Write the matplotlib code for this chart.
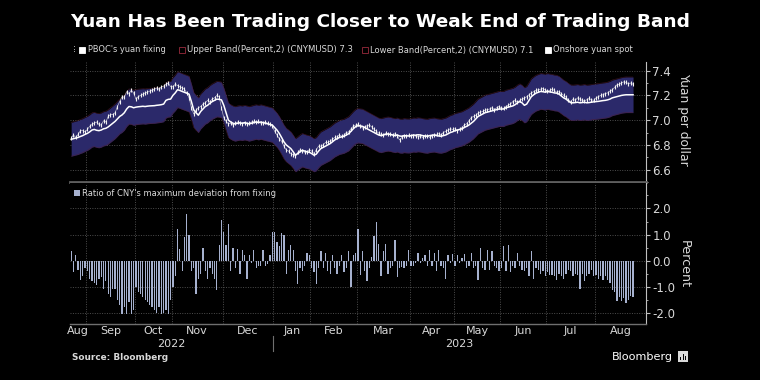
import matplotlib
matplotlib.use("Agg")
import matplotlib.pyplot as plt
import matplotlib.transforms as mtransforms
from matplotlib.patches import Rectangle
from matplotlib import font_manager as fm
import numpy as np
import pandas as pd

# ---------------- data ----------------
start_date = "2022-08-23"
end_date = "2023-08-23"
cn_holidays = ["2022-09-12", "2022-10-03", "2022-10-04", "2022-10-05", "2022-10-06", "2022-10-07",
               "2023-01-02", "2023-01-23", "2023-01-24", "2023-01-25", "2023-01-26", "2023-01-27",
               "2023-04-05", "2023-05-01", "2023-05-02", "2023-05-03", "2023-06-22", "2023-06-23"]

band_pct = 2.0

fixing = [
    6.845, 6.850, 6.855, 6.860, 6.868, 6.875, 6.885,  # Aug
    6.893, 6.905, 6.920, 6.925, 6.918, 6.915, 6.920, 6.930, 6.934, 6.945, 6.960, 6.975, 6.990, 7.010,
    7.030, 7.042, 7.060, 7.090, 7.110, 7.108, 7.100,  # Sep
    7.105, 7.108, 7.110, 7.112, 7.110, 7.113, 7.115, 7.116, 7.117, 7.120, 7.122, 7.125, 7.130, 7.160,
    7.168, 7.170,  # Oct
    7.200, 7.220, 7.246, 7.240, 7.232, 7.225, 7.218, 7.210, 7.150, 7.083, 7.060, 7.040, 7.070, 7.090,
    7.110, 7.120, 7.137, 7.150, 7.160, 7.170, 7.168, 7.164,  # Nov
    7.120, 7.060, 7.000, 6.985, 6.975, 6.970, 6.975, 6.978, 6.975, 6.980, 6.975, 6.970, 6.975, 6.980,
    6.985, 6.980, 6.985, 6.980, 6.975, 6.970, 6.965, 6.960,  # Dec
    6.940, 6.920, 6.893, 6.860, 6.825, 6.800, 6.785, 6.770, 6.745, 6.717, 6.730, 6.745, 6.757, 6.750,
    6.744, 6.740,  # Jan
    6.730, 6.717, 6.725, 6.750, 6.770, 6.780, 6.790, 6.800, 6.810, 6.825, 6.840, 6.850, 6.860, 6.865,
    6.870, 6.880, 6.890, 6.910, 6.930, 6.947,  # Feb
    6.955, 6.953, 6.950, 6.940, 6.930, 6.920, 6.910, 6.900, 6.890, 6.880, 6.875, 6.880, 6.885, 6.888,
    6.885, 6.880, 6.875, 6.880, 6.872, 6.870, 6.875, 6.873, 6.872,  # Mar
    6.875, 6.880, 6.878, 6.882, 6.880, 6.875, 6.872, 6.870, 6.875, 6.878, 6.880, 6.875, 6.872, 6.870,
    6.875, 6.880, 6.890, 6.900, 6.906,  # Apr
    6.915, 6.920, 6.925, 6.930, 6.940, 6.950, 6.960, 6.975, 6.990, 7.010, 7.030, 7.040, 7.050, 7.060,
    7.065, 7.070, 7.075, 7.080, 7.085, 7.090,  # May
    7.090, 7.090, 7.100, 7.105, 7.110, 7.115, 7.125, 7.140, 7.150, 7.140, 7.120, 7.130, 7.160, 7.190,
    7.205, 7.218, 7.225, 7.232, 7.230, 7.226,  # Jun
    7.232, 7.228, 7.225, 7.220, 7.218, 7.210, 7.195, 7.180, 7.170, 7.155, 7.142, 7.140, 7.142, 7.145,
    7.140, 7.142, 7.145, 7.140, 7.142, 7.145, 7.148,  # Jul
    7.150, 7.152, 7.155, 7.158, 7.160, 7.164, 7.170, 7.180, 7.185, 7.190, 7.195, 7.200, 7.203, 7.205,
    7.205, 7.205, 7.205,  # Aug
]

spot = [
    6.855, 6.880, 6.860, 6.885, 6.915, 6.915, 6.905,  # Aug
    6.925, 6.950, 6.965, 6.975, 6.985, 6.965, 6.960, 6.995, 6.985, 7.030, 7.045, 7.045, 7.060, 7.110,
    7.150, 7.190, 7.185, 7.230, 7.215, 7.240, 7.220,  # Sep
    7.170, 7.190, 7.200, 7.210, 7.220, 7.225, 7.235, 7.240, 7.250, 7.260, 7.250, 7.270, 7.275, 7.290,
    7.300, 7.270,  # Oct
    7.270, 7.290, 7.280, 7.270, 7.260, 7.250, 7.220, 7.180, 7.100, 7.050, 7.080, 7.100, 7.110, 7.130,
    7.140, 7.160, 7.150, 7.170, 7.180, 7.200, 7.190, 7.100,  # Nov
    7.020, 6.990, 6.970, 6.975, 6.960, 6.975, 6.985, 6.980, 6.970, 6.975, 6.970, 6.975, 6.985, 6.990,
    6.985, 6.990, 6.975, 6.980, 6.985, 6.975, 6.965, 6.950,  # Dec
    6.910, 6.880, 6.850, 6.830, 6.790, 6.760, 6.750, 6.730, 6.720, 6.710, 6.740, 6.760, 6.750, 6.740,
    6.745, 6.760,  # Jan
    6.750, 6.730, 6.760, 6.790, 6.790, 6.800, 6.820, 6.820, 6.830, 6.845, 6.860, 6.865, 6.880, 6.870,
    6.880, 6.900, 6.905, 6.930, 6.950, 6.960,  # Feb
    6.965, 6.955, 6.935, 6.945, 6.955, 6.960, 6.945, 6.925, 6.910, 6.895, 6.885, 6.880, 6.895, 6.890,
    6.885, 6.880, 6.890, 6.875, 6.840, 6.860, 6.875, 6.870, 6.880,  # Mar
    6.870, 6.875, 6.870, 6.865, 6.870, 6.860, 6.870, 6.875, 6.860, 6.870, 6.880, 6.885, 6.890, 6.880,
    6.900, 6.910, 6.920, 6.930, 6.925,  # Apr
    6.930, 6.915, 6.925, 6.940, 6.960, 6.970, 6.995, 7.020, 7.030, 7.040, 7.055, 7.065, 7.070, 7.080,
    7.085, 7.090, 7.100, 7.085, 7.100, 7.110,  # May
    7.100, 7.095, 7.110, 7.120, 7.130, 7.150, 7.160, 7.145, 7.160, 7.170, 7.175, 7.190, 7.205, 7.220,
    7.230, 7.240, 7.245, 7.250, 7.255, 7.245,  # Jun
    7.235, 7.240, 7.250, 7.240, 7.225, 7.230, 7.215, 7.200, 7.185, 7.165, 7.150, 7.170, 7.160, 7.180,
    7.170, 7.160, 7.155, 7.165, 7.175, 7.165, 7.160,  # Jul
    7.180, 7.190, 7.200, 7.205, 7.215, 7.220, 7.235, 7.245, 7.265, 7.285, 7.290, 7.300, 7.310, 7.305,
    7.295, 7.300, 7.290,  # Aug
]

deviation_ratio = [
    0.38, -0.45, 0.20, -0.35, -0.75, -0.60, -0.30,  # Aug
    -0.40, -0.70, -0.80, -0.85, -0.95, -0.70, -0.65, -1.10, -0.80, -1.30, -1.40, -1.10, -1.10, -1.50,
    -1.70, -2.05, -1.80, -2.05, -1.60, -2.05, -1.90,  # Sep
    -1.00, -1.20, -1.30, -1.40, -1.50, -1.60, -1.70, -1.80, -1.90, -2.00, -1.80, -2.05, -2.00, -1.90,
    -2.05, -1.50,  # Oct
    -1.00, -0.60, 1.20, 0.45, -0.40, 0.90, 1.80, 1.00, -0.40, -0.30, -1.30, -0.70, -0.50, 0.50,
    -0.40, -0.70, -0.30, -0.50, -0.70, -1.15, 0.60, 1.55,  # Nov
    1.10, 0.60, 1.40, -0.40, 0.50, -0.30, 0.45, -0.50, 0.40, 0.20, -0.70, 0.20, -0.10, 0.40,
    -0.30, -0.20, -0.20, 0.40, -0.20, -0.15, 0.20, 1.10,  # Dec
    1.10, 0.70, 0.55, 1.05, 1.00, -0.50, 0.40, 0.60, 0.40, -0.40, -0.90, -0.30, -0.40, -0.20,
    0.30, 0.20,  # Jan
    -0.30, -0.45, -0.90, -0.30, 0.35, -0.30, 0.30, -0.40, -0.50, 0.20, -0.30, -0.50, -0.20, 0.20,
    -0.45, -0.30, 0.35, -1.00, 0.20, 0.30,  # Feb
    1.20, -0.55, 0.35, -0.40, -0.80, -0.30, 0.15, 0.95, 1.50, 0.65, -0.60, 0.35, 0.65, -0.50,
    -0.30, -0.20, 0.80, -0.65, -0.30, -0.25, -0.30, -0.20, 0.40,  # Mar
    -0.20, -0.20, -0.10, 0.30, -0.10, 0.10, 0.20, -0.20, 0.40, -0.20, 0.30, -0.40, 0.40, -0.20,
    -0.30, -0.70, 0.20, -0.10, 0.25,  # Apr
    -0.20, 0.20, -0.10, 0.10, 0.25, -0.30, -0.20, 0.30, -0.30, -0.20, -0.75, 0.50, -0.30, -0.35,
    0.40, -0.35, 0.35, -0.20, -0.30, -0.40,  # May
    -0.30, 0.55, -0.40, 0.60, -0.45, -0.20, -0.30, 0.30, -0.20, -0.35, -0.40, -0.30, -0.60, 0.35,
    -0.70, -0.30, -0.35, -0.50, -0.40, -0.60,  # Jun
    -0.45, -0.55, -0.55, -0.60, -0.75, -0.50, -0.60, -0.70, -0.50, -0.35, -0.40, -0.60, -0.50, -0.55,
    -1.10, -0.50, -0.80, -0.60, -0.50, -0.35, -0.60,  # Jul
    -0.55, -0.70, -0.60, -0.75, -0.60, -0.75, -0.85, -1.15, -1.20, -1.55, -1.40, -1.55, -1.45, -1.65,
    -1.50, -1.35, -1.40,  # Aug
]

top_ticks = [6.6, 6.8, 7.0, 7.2, 7.4]
bottom_ticks = [-2.0, -1.0, 0.0, 1.0, 2.0]

title = "Yuan Has Been Trading Closer to Weak End of Trading Band"
legend_top = ["PBOC's yuan fixing", "Upper Band(Percent,2) (CNYMUSD) 7.3",
              "Lower Band(Percent,2) (CNYMUSD) 7.1", "Onshore yuan spot"]
legend_bottom = "Ratio of CNY's maximum deviation from fixing"

# ---------------- prep ----------------
dates = pd.bdate_range(start_date, end_date, freq="C", holidays=cn_holidays)
n = min(len(dates), len(fixing), len(spot), len(deviation_ratio))
dates = dates[:n]
x = np.arange(n)
fix = np.array(fixing[:n])
spt = np.array(spot[:n])
dev = np.array(deviation_ratio[:n])
upper = fix * (1 + band_pct / 100)
lower = fix * (1 - band_pct / 100)

names = {f.name for f in fm.fontManager.ttflist}
narrow = "Liberation Sans Narrow" if "Liberation Sans Narrow" in names else "DejaVu Sans"

W, H = 760, 380
BG = "black"
TXT = "#d9d9d9"
GRID = "#4d4d4d"
FILL = "#2b296a"
EDGE = "#521c2e"
BAR = "#a6b1cf"

fig = plt.figure(figsize=(W / 100, H / 100), dpi=100, facecolor=BG)


def fx(px):
    return px / W


def fy(py):
    return 1 - py / H


ax1 = fig.add_axes([fx(70), fy(182), fx(646) - fx(70), (182 - 62) / H], facecolor=BG)
ax2 = fig.add_axes([fx(70), fy(324), fx(646) - fx(70), (324 - 183) / H], facecolor=BG, sharex=ax1)

xmax = n - 1 + 5.6
ax1.set_xlim(-0.5, xmax)

# month boundaries
months = pd.Series(x, index=dates).groupby([dates.year, dates.month])
bounds = []
groups = []
for (yy, mm), s in months:
    groups.append((yy, mm, s.iloc[0], s.iloc[-1]))
for g in groups[1:]:
    bounds.append(g[2] - 0.5)

for ax in (ax1, ax2):
    for b in bounds:
        ax.axvline(b, color=GRID, lw=0.7, ls=(0, (1, 1.5)), zorder=0)
    ax.yaxis.tick_right()
    ax.yaxis.set_label_position("right")
    for s in ("top", "left"):
        ax.spines[s].set_visible(False)
    ax.spines["right"].set_color("#bfbfbf")
    ax.tick_params(axis="y", which="both", colors="#bfbfbf", labelcolor=TXT, direction="out",
                   labelsize=8.5, pad=1.5)
    ax.tick_params(axis="y", which="major", length=3, width=0.8)
    ax.tick_params(axis="y", which="minor", length=1.5, width=0.6)
    ax.tick_params(axis="x", which="both", length=0, labelbottom=False)
    ax.set_xticks([])

# top panel
ax1.set_ylim(6.5, 7.47)
ax1.set_yticks(top_ticks)
ax1.set_yticks(np.arange(6.5, 7.46, 0.1), minor=True)
ax1.set_yticklabels([f"{v:.1f}" for v in top_ticks])
for v in top_ticks:
    ax1.axhline(v, color=GRID, lw=0.7, ls=(0, (1, 1.5)), zorder=0)
ax1.fill_between(x, lower, upper, color=FILL, lw=0, zorder=1)
ax1.plot(x, upper, color=EDGE, lw=0.5, ls=(0, (1, 0.6)), zorder=2)
ax1.plot(x, lower, color=EDGE, lw=0.5, ls=(0, (1, 0.6)), zorder=2)
ax1.plot(x, spt, color="#e8e8e8", lw=0.5, alpha=0.75, zorder=3)
ax1.plot(x, spt, ls="none", marker="|", ms=3.5, mew=0.8, color="#f2f2f2", zorder=3)
ax1.plot(x, fix, color="white", lw=1.1, zorder=4)
ax1.spines["bottom"].set_color("#5f5f5f")
ax1.spines["bottom"].set_linewidth(2.0)

# bottom panel
ax2.set_ylim(-2.44, 2.98)
ax2.set_yticks(bottom_ticks)
ax2.set_yticks(np.arange(-2.0, 2.6, 0.5), minor=True)
ax2.set_yticklabels([f"{v:.1f}" for v in bottom_ticks])
for v in bottom_ticks:
    ax2.axhline(v, color=GRID, lw=0.7, ls=(0, (1, 1.5)), zorder=0)
ax2.bar(x, dev, width=0.55, color=BAR, lw=0, zorder=2)
ax2.spines["bottom"].set_color("#6f6f6f")
ax2.spines["bottom"].set_linewidth(1.0)

# month / year labels
mnames = ["Jan", "Feb", "Mar", "Apr", "May", "Jun", "Jul", "Aug", "Sep", "Oct", "Nov", "Dec"]
trans = mtransforms.blended_transform_factory(ax2.transData, ax2.transAxes)
year_ranges = {}
for i, (yy, mm, s0, s1) in enumerate(groups):
    left = -0.5 if i == 0 else s0 - 0.5
    right = xmax if i == len(groups) - 1 else s1 + 0.5
    ax2.text((left + right) / 2, -0.012, mnames[mm - 1], transform=trans, ha="center", va="top",
             fontsize=8, color=TXT)
    lo, hi = year_ranges.get(yy, (left, right))
    year_ranges[yy] = (min(lo, left), max(hi, right))
for yy, (lo, hi) in year_ranges.items():
    ax2.text((lo + hi) / 2, -0.105, str(yy), transform=trans, ha="center", va="top",
             fontsize=8, color=TXT)
year_sep = [g[2] - 0.5 for g in groups if g[1] == 1]
for b in year_sep:
    ax2.plot([b, b], [-0.085, -0.19], transform=trans, color="#6f6f6f", lw=0.8, clip_on=False)

# ---------------- texts ----------------
fig.canvas.draw()
renderer = fig.canvas.get_renderer()


def fit(t, target, vertical=False):
    for _ in range(2):
        bb = t.get_window_extent(renderer)
        cur = bb.height if vertical else bb.width
        t.set_fontsize(t.get_fontsize() * target / cur)


t = fig.text(fx(70), fy(22), title, fontsize=13, fontweight="bold", color="white", va="center",
             ha="left", family="DejaVu Sans")
fit(t, 620)

# top legend
leg_y = 50
sq = 6
items = [(79, 88, legend_top[0], 79, "white", "white"),
         (179, 187, legend_top[1], 165, "black", "#9a2a3c"),
         (362, 370, legend_top[2], 164, "black", "#9a2a3c"),
         (545, 553, legend_top[3], 79, "white", "white")]
for sqx, tx, label, wdt, fc, ec in items:
    fig.add_artist(Rectangle((fx(sqx), fy(leg_y + sq / 2)), sq / W, sq / H, transform=fig.transFigure,
                             facecolor=fc, edgecolor=ec, lw=0.6))
    tt = fig.text(fx(tx), fy(leg_y), label, fontsize=7, color=TXT, va="center", ha="left", family=narrow)
    fit(tt, wdt)
# tiny dotted icon before first legend item
for k in range(3):
    fig.add_artist(Rectangle((fx(74), fy(leg_y - 3 + k * 2.5)), 1 / W, 1 / H, transform=fig.transFigure,
                             facecolor="#9a9a9a", edgecolor="none"))

# bottom legend
fig.add_artist(Rectangle((fx(74), fy(193 + 3)), sq / W, sq / H, transform=fig.transFigure,
                         facecolor=BAR, edgecolor="none"))
tt = fig.text(fx(82), fy(193), legend_bottom, fontsize=7, color=TXT, va="center", ha="left", family=narrow)
fit(tt, 196)

# y labels
yl1 = fig.text(fx(684), fy(119), "Yuan per dollar", rotation=270, fontsize=9, color=TXT,
               va="center", ha="center")
fit(yl1, 93, vertical=True)
yl2 = fig.text(fx(684), fy(264), "Percent", rotation=270, fontsize=9, color=TXT,
               va="center", ha="center")
fit(yl2, 48, vertical=True)

# footer
src = fig.text(fx(72), fy(358), "Source: Bloomberg", fontsize=7, fontweight="bold", color=TXT,
               va="center", ha="left")
fit(src, 96)
bl = fig.text(fx(673), fy(357), "Bloomberg", fontsize=9, color="white", va="center", ha="right")
fit(bl, 61)
fig.add_artist(Rectangle((fx(678), fy(362)), 10 / W, 11 / H, transform=fig.transFigure,
                         facecolor="#d9d9d9", edgecolor="none"))
for k, hh in enumerate([3, 6, 4]):
    fig.add_artist(Rectangle((fx(680 + k * 2.5), fy(360)), 1.2 / W, hh / H, transform=fig.transFigure,
                             facecolor="black", edgecolor="none"))

fig.savefig("out.png", dpi=100, facecolor=BG)
